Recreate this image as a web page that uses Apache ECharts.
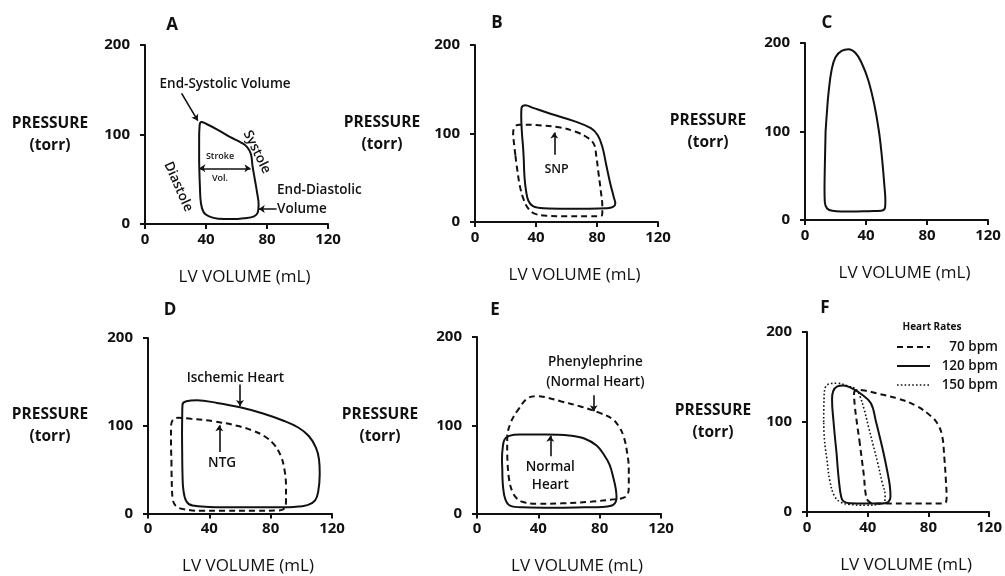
<!DOCTYPE html>
<html>
<head>
<meta charset="utf-8">
<script src="https://cdn.jsdelivr.net/npm/echarts@6/dist/echarts.min.js"></script>
<style>
  html, body { margin: 0; padding: 0; background: #fff; }
  #chart { width: 1005px; height: 576px; }
</style>
</head>
<body>
<div id="chart"></div>
<script>
// ---- axis ticks ----
const volumeTicks = [0, 40, 80, 120];
const pressureTicks = [0, 100, 200];
const panelLetters = ['A', 'B', 'C', 'D', 'E', 'F'];

// ---- pressure–volume loops: [volume mL, pressure torr] ----
// A: normal loop
const loopA = [[35.5,70],[35.5,95],[35.8,110],[37,114],[40,112],[48,105],[56,97],[63,91],[67,86],[69.5,78],[70.5,65],[72,50],[73.5,35],[74.5,22],[74,13],[71.5,8.5],[65,6.5],[57,5.5],[48,6],[42,8.5],[38.5,13],[36.7,23],[36,42],[35.5,70]];

// B: baseline (solid) and after nitroprusside (dashed)
const loopBBase = [[32,70],[32.5,50],[33.5,35],[35,24],[38,18],[45,15.5],[60,15],[75,15],[86,15.5],[90.5,17],[92,21],[91,28],[88.5,45],[86,65],[83.5,85],[80.5,98],[76,106],[65,114],[50,122],[38,129],[33,132],[30.5,129],[30.3,120],[30.8,100],[31.5,85],[32,70]];
const loopBSnp = [[26.5,75],[27.8,58],[29.5,40],[32,25],[35,15],[39,9.5],[47,7],[60,6.5],[75,6.5],[82.5,6.8],[83.5,10],[83.5,17],[82.5,35],[81,55],[79.5,75],[78,88],[74,95],[66,102],[55,107],[40,109.5],[29,110],[26,107],[25,100],[25.5,90],[26.5,75]];

// C: tall narrow loop
const loopC = [[13.5,100],[13,60],[12.8,35],[13,20],[14.5,13],[18,10.5],[30,9.5],[42,10],[50,10.5],[52.5,14],[52.7,22],[52,40],[50.5,70],[48.5,100],[45.5,130],[41.5,158],[37,178],[33,189],[28.5,193],[24,191],[20,184],[17.5,170],[15.5,145],[14.3,120],[13.5,100]];

// D: ischemic heart (solid) and with nitroglycerin (dashed)
const loopDIschemic = [[22.3,70],[22.5,45],[23,28],[25,14],[29,9],[40,7.5],[60,7],[80,7],[95,7.5],[104,9.5],[109,15],[111,25],[112,45],[111.5,62],[109.5,75],[105,88],[98,98],[88,106],[75,114],[60,121],[45,126],[32,129],[25,128],[22.5,124],[22.3,110],[22.2,90],[22.3,70]];
const loopDNtg = [[15.3,60],[15.5,35],[16.3,15],[18.5,8],[23,5],[34,3],[50,3],[70,3],[85,3.5],[89,6],[90,15],[90,30],[89,50],[86.5,66],[82,79],[76,88],[69,94],[58,100],[43,105],[28,108],[19.5,109],[16,106],[15,98],[15,80],[15.3,60]];

// E: normal heart (solid) and with phenylephrine (dashed)
const loopENormal = [[16.5,50],[17,30],[18.5,16],[21.5,9],[30,7],[50,6.5],[70,7],[82,7.5],[89,10],[91,18],[90.5,28],[89,40],[86.5,55],[83,66],[78,77],[70,85],[60,88.5],[45,89.5],[28,89.5],[21,88],[18,84],[16.8,75],[16.3,62],[16.5,50]];
const loopEPhenyl = [[20,55],[21,38],[23,25],[26,17],[30,13],[39,11],[55,11.5],[75,13.5],[89,16],[95,17.5],[98,21],[99,30],[99,50],[98,68],[95.5,88],[92,100],[88,107.5],[80,114],[68,121],[55,127],[44,132],[39,133],[33,130.5],[27,118],[22,103],[19.7,85],[19.7,70],[20,55]];

// F: heart rates
const loopF70 = [[34.5,80],[36,60],[37.5,40],[38.5,22],[40,13],[44,9.5],[55,9.5],[75,9.5],[88,9.5],[91.5,11],[92,16],[91.5,35],[90.5,60],[89,85],[86,98],[82,106],[72,118],[60,126],[48,131],[38,135],[33,135.5],[31,132],[31.5,118],[32.8,100],[34.5,80]];
const loopF120 = [[19.5,65],[21,35],[22.5,17],[24,12],[28,9.8],[40,9.5],[50,9.5],[53.5,11],[55,17],[54.5,30],[52.7,47],[50.5,65],[48,83],[45.5,100],[42,121],[35,132],[29,138],[24,140.5],[20,139.5],[17.2,134],[16.5,125],[17.5,100],[19.5,65]];
const loopF150 = [[11,100],[11.2,125],[12,138],[15,142.5],[20,143],[27,140],[32.5,136],[35,128],[37.5,115],[40.5,95],[43.5,75],[46.5,55],[49.5,33],[51.5,18],[51,11],[47,8.5],[39,7.5],[28,8.5],[22,11],[18,18],[15,35],[13,60],[11.5,80],[11,100]];
const heartRateNames = ['70 bpm', '120 bpm', '150 bpm'];

// ---- annotation arrows: [panel, from, to, doubleHeaded] ----
const arrows = [
  [0, [24, 146], [34.6, 115.5], false],
  [0, [35.6, 62.2], [69.2, 62.2], true],
  [0, [86.3, 16.8], [74.6, 16.8], false],
  [1, [52, 76], [52, 101], false],
  [3, [60, 147], [60, 122.5], false],
  [3, [46.5, 70], [46.5, 100.5], false],
  [4, [76.1, 134], [76.1, 116], false],
  [4, [47.8, 65], [47.8, 88], false]
];

// ---- annotation texts: [panel, text, x, y, fontSize, rotate, align] ----
const notes = [
  [0, 'End-Systolic Volume', 52.5, 156.4, 13.5, 0, 'center'],
  [0, 'Systole', 73.4, 80.4, 13.5, -64, 'center'],
  [0, 'Diastole', 21.8, 41.7, 13.5, -66, 'center'],
  [0, 'Stroke', 49.2, 75.2, 9, 0, 'center'],
  [0, 'Vol.', 49.2, 51, 9, 0, 'center'],
  [0, 'End-Diastolic', 86.6, 38, 13.5, 0, 'left'],
  [0, 'Volume', 86.6, 16.8, 13.5, 0, 'left'],
  [1, 'SNP', 53.5, 59, 12.5, 0, 'center'],
  [3, 'Ischemic Heart', 57, 154, 13.5, 0, 'center'],
  [3, 'NTG', 48.3, 57.6, 13.5, 0, 'center'],
  [4, 'Phenylephrine', 77.2, 172, 13.5, 0, 'center'],
  [4, '(Normal Heart)', 77.2, 149.3, 13.5, 0, 'center'],
  [4, 'Normal', 47.8, 52.5, 13.5, 0, 'center'],
  [4, 'Heart', 47.8, 32, 13.5, 0, 'center']
];

// ---- layout of the six panels ----
const grids = [
  { left: 145, top: 45,  width: 183, height: 179 },
  { left: 475, top: 45,  width: 183, height: 177 },
  { left: 805, top: 43,  width: 183, height: 177 },
  { left: 148, top: 338, width: 184, height: 177 },
  { left: 477, top: 337, width: 184, height: 177 },
  { left: 807, top: 332, width: 183, height: 180 }
];
const letterPos = [[172, 25], [497, 23], [827, 23], [170, 310], [495, 310], [825, 308]];
const yNameGap = [95, 93, 97, 98, 97, 94];

const INK = '#111111';
const FONT = "'Open Sans', 'Liberation Sans', sans-serif";

const xAxes = grids.map((g, i) => ({
  type: 'value', gridIndex: i, min: 0, max: 120, interval: 40,
  name: 'LV VOLUME (mL)', nameLocation: 'middle', nameGap: 53,
  nameTextStyle: { color: INK, fontSize: 17, fontFamily: FONT, verticalAlign: 'middle', padding: [0, 0, 0, 16] },
  axisLine: { show: true, onZero: false, lineStyle: { color: INK, width: 2 } },
  axisTick: { show: true, inside: false, length: 5, lineStyle: { color: INK, width: 2 } },
  axisLabel: { color: INK, fontSize: 15, fontWeight: 'bold', fontFamily: FONT, margin: 8,
               formatter: v => volumeTicks.includes(v) ? String(v) : '' },
  splitLine: { show: false }
}));

const yAxes = grids.map((g, i) => ({
  type: 'value', gridIndex: i, min: 0, max: 200, interval: 100,
  name: 'PRESSURE\n(torr)', nameLocation: 'middle', nameRotate: 0, nameGap: yNameGap[i],
  nameTextStyle: { color: INK, fontSize: 15.5, fontWeight: 'bold', fontFamily: FONT, align: 'center',
                   verticalAlign: 'middle', lineHeight: 22 },
  axisLine: { show: true, onZero: false, lineStyle: { color: INK, width: 2 } },
  axisTick: { show: true, inside: false, length: 5, lineStyle: { color: INK, width: 2 } },
  axisLabel: { color: INK, fontSize: 15, fontWeight: 'bold', fontFamily: FONT, margin: 15,
               formatter: v => pressureTicks.includes(v) ? String(v) : '' },
  splitLine: { show: false }
}));

const DASH = [6, 4];
const DOT = [1.6, 2.2];
function loop(panel, data, type, name) {
  return {
    type: 'line', name: name, xAxisIndex: panel, yAxisIndex: panel, data: data,
    symbol: 'none', smooth: 0.4, silent: true, z: 3,
    lineStyle: { color: INK, width: type === 'dotted' ? 1.6 : 2,
                 type: type === 'dashed' ? DASH : type === 'dotted' ? DOT : 'solid' },
    itemStyle: { color: INK }
  };
}

const series = [
  loop(0, loopA, 'solid'),
  loop(1, loopBBase, 'solid'),
  loop(1, loopBSnp, 'dashed'),
  loop(2, loopC, 'solid'),
  loop(3, loopDIschemic, 'solid'),
  loop(3, loopDNtg, 'dashed'),
  loop(4, loopENormal, 'solid'),
  loop(4, loopEPhenyl, 'dashed'),
  loop(5, loopF70, 'dashed', heartRateNames[0]),
  loop(5, loopF120, 'solid', heartRateNames[1]),
  loop(5, loopF150, 'dotted', heartRateNames[2])
];

// arrows drawn in data coordinates of each panel
arrows.forEach(([p, from, to, both]) => {
  series.push({
    type: 'lines', coordinateSystem: 'cartesian2d', xAxisIndex: p, yAxisIndex: p,
    silent: true, z: 4,
    symbol: [both ? 'arrow' : 'none', 'arrow'], symbolSize: 6,
    lineStyle: { color: INK, width: 1.6, opacity: 1, curveness: 0 },
    data: [{ coords: [from, to] }]
  });
});

// text annotations placed in data coordinates
for (let p = 0; p < 6; p++) {
  const items = notes.filter(n => n[0] === p).map(([, text, x, y, size, rot, align]) => ({
    name: text, value: [x, y],
    label: { fontSize: size, rotate: rot, align: align, color: INK }
  }));
  if (!items.length) continue;
  series.push({
    type: 'scatter', xAxisIndex: p, yAxisIndex: p, silent: true, z: 5,
    symbol: 'circle', symbolSize: 1, itemStyle: { color: 'rgba(255,255,255,0)', opacity: 1 },
    label: { show: true, position: 'inside', formatter: '{b}', color: INK, opacity: 1,
             fontFamily: FONT, fontWeight: 600, verticalAlign: 'middle',
             textBorderWidth: 0 },
    emphasis: { disabled: true },
    data: items
  });
}

// panel letters and the heart-rate key
const graphic = letterPos.map((pos, i) => ({
  type: 'text', x: pos[0], y: pos[1], silent: true,
  style: { text: panelLetters[i], fill: INK, font: "bold 17px 'Open Sans', sans-serif",
           textAlign: 'center', textVerticalAlign: 'middle' }
}));
graphic.push({
  type: 'text', x: 932, y: 327, silent: true,
  style: { text: 'Heart Rates', fill: INK, font: "bold 10px 'Open Sans', sans-serif",
           textAlign: 'center', textVerticalAlign: 'middle' }
});
const keyDash = [DASH, null, DOT];
heartRateNames.forEach((nm, i) => {
  const y = 347 + i * 19;
  graphic.push({
    type: 'line', silent: true,
    shape: { x1: 897, y1: y, x2: 930, y2: y },
    style: { stroke: INK, lineWidth: i === 2 ? 1.6 : 2, lineDash: keyDash[i] }
  });
  graphic.push({
    type: 'text', x: 998, y: y, silent: true,
    style: { text: nm, fill: INK, font: "600 13.5px 'Open Sans', sans-serif",
             textAlign: 'right', textVerticalAlign: 'middle' }
  });
});

const chart = echarts.init(document.getElementById('chart'), null, { renderer: 'canvas' });
chart.setOption({
  backgroundColor: '#ffffff',
  animation: false,
  grid: grids.map(g => Object.assign({ containLabel: false }, g)),
  xAxis: xAxes,
  yAxis: yAxes,
  graphic: graphic,
  series: series
});
</script>
</body>
</html>
